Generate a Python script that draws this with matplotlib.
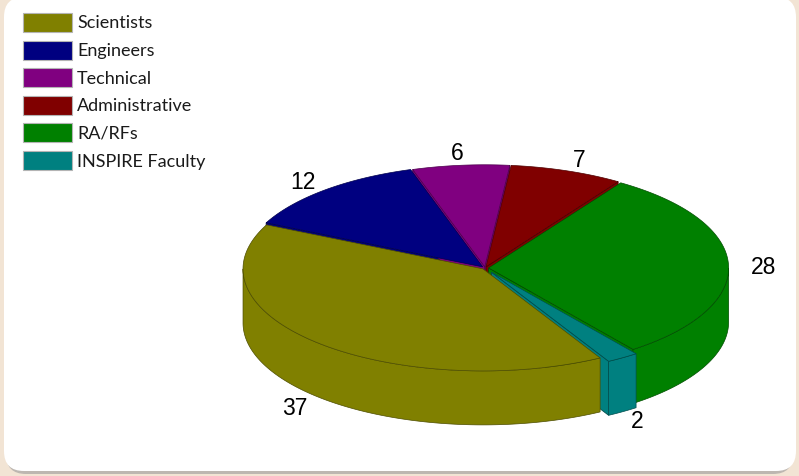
import numpy as np
import matplotlib.pyplot as plt
from matplotlib.colors import to_rgb
from matplotlib.patches import Polygon, Rectangle, FancyBboxPatch

# ── data ──────────────────────────────────────────────────────────────────────
CATEGORIES = ["Scientists", "Engineers", "Technical", "Administrative",
              "RA/RFs", "INSPIRE Faculty"]
COUNTS = [37, 12, 6, 7, 28, 2]
COLORS = ["#808000", "#000080", "#800080", "#800000", "#008000", "#008080"]
EXPLODE = [0.012, 0.015, 0.012, 0.012, 0.015, 0.05]

# ── layout (pixels) ───────────────────────────────────────────────────────────
W, H = 799, 476
BG = "#f2e4d4"
CX, CY = 485, 268      # centre of the top face
RX, RY = 240, 102      # radii of the top ellipse
DEPTH = 54             # disc thickness
START = -60.8          # first slice starts here and runs clockwise
LABEL_R = 1.16


def proj(x, y, bottom=False):
    """Pie-plane coords (unit circle) -> image pixels."""
    return CX + RX * np.asarray(x), CY - RY * np.asarray(y) + (DEPTH if bottom else 0)


def edge_of(color):
    return tuple(c * 0.6 for c in to_rgb(color))


def slice_angles():
    total = sum(COUNTS)
    cum = np.concatenate([[0], np.cumsum(COUNTS)]) / total * 360
    # clockwise order -> (a1, a2) with a1 < a2
    return [(START - cum[i + 1], START - cum[i]) for i in range(len(COUNTS))]


def runs(mask):
    idx = np.flatnonzero(mask)
    if len(idx) == 0:
        return []
    splits = np.flatnonzero(np.diff(idx) > 1) + 1
    return np.split(idx, splits)


fig = plt.figure(figsize=(W / 100, H / 100), dpi=100)
fig.patch.set_facecolor(BG)
ax = fig.add_axes([0, 0, 1, 1])
ax.set_xlim(0, W)
ax.set_ylim(H, 0)
ax.axis("off")

# rounded white card with a soft grey lip underneath
ax.add_patch(FancyBboxPatch((6, -3), W - 12, H - 1 + 3 - 1,
                            boxstyle="round,pad=0,rounding_size=20",
                            fc="#bdb7b1", ec="none", zorder=0))
ax.add_patch(FancyBboxPatch((4, -3), W - 7, H - 4 + 3 - 1,
                            boxstyle="round,pad=0,rounding_size=20",
                            fc="white", ec="none", zorder=0.5))

angles = slice_angles()
faces, walls, tops = [], [], []

for (a1, a2), col, e in zip(angles, COLORS, EXPLODE):
    mid = np.radians((a1 + a2) / 2)
    ox, oy = e * np.cos(mid), e * np.sin(mid)
    ec = edge_of(col)

    # radial faces that turn toward the viewer
    for a, visible in ((a1, np.cos(np.radians(a1)) > 0), (a2, np.cos(np.radians(a2)) < 0)):
        if not visible:
            continue
        r = np.radians(a)
        xs = [ox, ox + np.cos(r)]
        ys = [oy, oy + np.sin(r)]
        tx, ty = proj(xs, ys)
        bx, by = proj(xs, ys, bottom=True)
        pts = [(tx[0], ty[0]), (tx[1], ty[1]), (bx[1], by[1]), (bx[0], by[0])]
        faces.append(Polygon(pts, closed=True, fc=col, ec=ec, lw=0.6, zorder=2))

    # outer wall, front half only
    t = np.linspace(a1, a2, 500)
    extra = [k * 180 for k in range(int(np.floor(a1 / 180)), int(np.ceil(a2 / 180)) + 1)
             if a1 < k * 180 < a2]
    t = np.sort(np.concatenate([t, extra]))
    tr = np.radians(t)
    for run in runs(np.sin(tr) < 1e-9):
        if len(run) < 2:
            continue
        xs = ox + np.cos(tr[run])
        ys = oy + np.sin(tr[run])
        tx, ty = proj(xs, ys)
        bx, by = proj(xs, ys, bottom=True)
        pts = np.column_stack([np.concatenate([tx, bx[::-1]]),
                               np.concatenate([ty, by[::-1]])])
        walls.append(Polygon(pts, closed=True, fc=col, ec=ec, lw=0.5, zorder=3))

    # top face
    xs = np.concatenate([[ox], ox + np.cos(tr)])
    ys = np.concatenate([[oy], oy + np.sin(tr)])
    tx, ty = proj(xs, ys)
    tops.append(Polygon(np.column_stack([tx, ty]), closed=True,
                        fc=col, ec=ec, lw=0.5, zorder=4))

for p in faces + walls + tops:
    ax.add_patch(p)

# value labels just outside the rim
for (a1, a2), val in zip(angles, COUNTS):
    mid = np.radians((a1 + a2) / 2)
    front = np.sin(mid) < 0
    px, py = proj(LABEL_R * np.cos(mid), LABEL_R * np.sin(mid), bottom=front)
    ax.text(px, py + (0 if front else 3.5), str(val), ha="center", va="center",
            fontsize=16.5, family="Liberation Sans", color="black", zorder=5)

# legend, top-left
for i, (name, col) in enumerate(zip(CATEGORIES, COLORS)):
    y0 = 13 + 27.6 * i
    ax.add_patch(Rectangle((23, y0), 49, 19, fc=col, ec="#b4b4b4", lw=0.8, zorder=5))
    ax.text(77, y0 + 10.5, name, ha="left", va="center", fontsize=13,
            family="Lato", color="#1a1a1a", zorder=5)

fig.savefig("out.png", dpi=100, facecolor=BG)
